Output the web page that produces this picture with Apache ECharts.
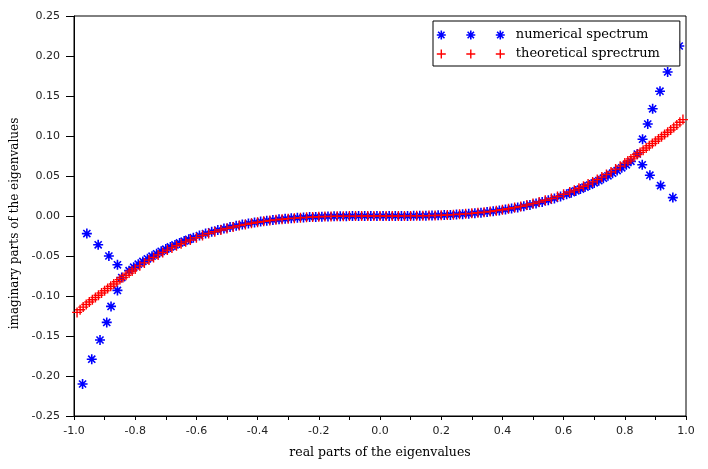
<!DOCTYPE html>
<html>
<head>
<meta charset="utf-8">
<script src="https://cdn.jsdelivr.net/npm/echarts@6.0.0/dist/echarts.min.js"></script>
<style>
  html, body { margin: 0; padding: 0; background: #fff; }
  #chart-container { width: 708px; height: 469px; }
</style>
</head>
<body>
<div id="chart-container"></div>
<script type="text/javascript">
// numerical spectrum (blue stars): left branches, central curve, right branches
var realNum = [
  -0.972, -0.942, -0.915, -0.893, -0.879, -0.858, -0.844, -0.858, -0.886, -0.921, -0.958,
  -0.82, -0.805, -0.79, -0.775, -0.76, -0.745, -0.73, -0.715, -0.70, -0.685, -0.67, -0.655, -0.64, -0.625, -0.61,
  -0.59, -0.57, -0.55, -0.53, -0.51, -0.49, -0.47, -0.45, -0.43, -0.41, -0.39, -0.37, -0.35, -0.33, -0.31,
  -0.29, -0.27, -0.25, -0.23, -0.21, -0.19, -0.17, -0.15, -0.13, -0.11, -0.09, -0.07, -0.05, -0.03, -0.01,
  0.01, 0.03, 0.05, 0.07, 0.09, 0.11, 0.13, 0.15, 0.17, 0.19, 0.21, 0.23, 0.25, 0.27, 0.29,
  0.31, 0.33, 0.35, 0.37, 0.39, 0.41, 0.43, 0.45, 0.47, 0.49, 0.51, 0.53, 0.55, 0.57, 0.59,
  0.61, 0.625, 0.64, 0.655, 0.67, 0.685, 0.70, 0.715, 0.73, 0.745, 0.76, 0.775, 0.79, 0.805, 0.82,
  0.841, 0.858, 0.875, 0.891, 0.915, 0.940, 0.978, 0.857, 0.882, 0.917, 0.957
];
var imagNum = [
  -0.210, -0.179, -0.155, -0.133, -0.113, -0.093, -0.077, -0.061, -0.050, -0.036, -0.022,
  -0.0683, -0.0640, -0.0603, -0.0568, -0.0535, -0.0503, -0.0472, -0.0442, -0.0414, -0.0387, -0.0362, -0.0337, -0.0314, -0.0292, -0.0271,
  -0.0245, -0.0220, -0.0197, -0.0176, -0.0157, -0.0139, -0.0122, -0.0107, -0.0093, -0.0081, -0.0069, -0.0059, -0.0050, -0.0042, -0.0035,
  -0.0028, -0.0023, -0.0018, -0.0014, -0.0011, -0.0008, -0.0006, -0.0004, -0.0003, -0.0002, -0.0001, 0, 0, 0, 0,
  0, 0, 0, 0, 0.0001, 0.0002, 0.0003, 0.0004, 0.0006, 0.0008, 0.0011, 0.0014, 0.0018, 0.0023, 0.0028,
  0.0035, 0.0042, 0.0050, 0.0059, 0.0069, 0.0081, 0.0093, 0.0107, 0.0122, 0.0139, 0.0157, 0.0176, 0.0197, 0.0220, 0.0245,
  0.0271, 0.0292, 0.0314, 0.0337, 0.0362, 0.0387, 0.0414, 0.0442, 0.0472, 0.0503, 0.0535, 0.0568, 0.0603, 0.0640, 0.0683,
  0.0775, 0.096, 0.115, 0.134, 0.156, 0.180, 0.2125, 0.064, 0.051, 0.038, 0.023
];

// theoretical spectrum (red crosses)
var realTheo = [
  -0.99, -0.98, -0.97, -0.96, -0.95, -0.94, -0.93, -0.92, -0.91, -0.90, -0.89, -0.88, -0.87, -0.86, -0.85, -0.84, -0.83, -0.82, -0.81, -0.80,
  -0.785, -0.77, -0.755, -0.74, -0.725, -0.71, -0.695, -0.68, -0.665, -0.65, -0.635, -0.62,
  -0.60, -0.58, -0.56, -0.54, -0.52, -0.50, -0.48, -0.46, -0.44, -0.42, -0.40, -0.38, -0.36, -0.34, -0.32,
  -0.30, -0.28, -0.26, -0.24, -0.22, -0.20, -0.18, -0.16, -0.14, -0.12, -0.10, -0.08, -0.06, -0.04, -0.02,
  0.00,
  0.02, 0.04, 0.06, 0.08, 0.10, 0.12, 0.14, 0.16, 0.18, 0.20, 0.22, 0.24, 0.26, 0.28, 0.30,
  0.32, 0.34, 0.36, 0.38, 0.40, 0.42, 0.44, 0.46, 0.48, 0.50, 0.52, 0.54, 0.56, 0.58, 0.60,
  0.62, 0.635, 0.65, 0.665, 0.68, 0.695, 0.71, 0.725, 0.74, 0.755, 0.77, 0.785,
  0.80, 0.81, 0.82, 0.83, 0.84, 0.85, 0.86, 0.87, 0.88, 0.89, 0.90, 0.91, 0.92, 0.93, 0.94, 0.95, 0.96, 0.97, 0.98, 0.99
];
var imagTheo = [
  -0.1205, -0.1172, -0.1139, -0.1107, -0.1075, -0.1047, -0.1019, -0.0991, -0.0963, -0.0935, -0.0906, -0.0878, -0.0850, -0.0822, -0.0795, -0.0768, -0.0741, -0.0714, -0.0687, -0.0661,
  -0.0623, -0.0586, -0.0551, -0.0518, -0.0486, -0.0456, -0.0426, -0.0399, -0.0372, -0.0347, -0.0323, -0.0300,
  -0.0271, -0.0244, -0.0219, -0.0196, -0.0175, -0.0155, -0.0137, -0.0120, -0.0105, -0.0091, -0.0079, -0.0067, -0.0057, -0.0048, -0.0040,
  -0.0033, -0.0027, -0.0021, -0.0017, -0.0013, -0.0010, -0.0007, -0.0005, -0.0003, -0.0002, -0.0001, -0.0001, 0, 0, 0,
  0,
  0, 0, 0, 0.0001, 0.0001, 0.0002, 0.0003, 0.0005, 0.0007, 0.0010, 0.0013, 0.0017, 0.0021, 0.0027, 0.0033,
  0.0040, 0.0048, 0.0057, 0.0067, 0.0079, 0.0091, 0.0105, 0.0120, 0.0137, 0.0155, 0.0175, 0.0196, 0.0219, 0.0244, 0.0271,
  0.0300, 0.0323, 0.0347, 0.0372, 0.0399, 0.0426, 0.0456, 0.0486, 0.0518, 0.0551, 0.0586, 0.0623,
  0.0661, 0.0687, 0.0714, 0.0741, 0.0768, 0.0795, 0.0822, 0.0850, 0.0878, 0.0906, 0.0935, 0.0963, 0.0991, 0.1019, 0.1047, 0.1075, 0.1107, 0.1139, 0.1172, 0.1205
];

var seriesNames = ['numerical spectrum', 'theoretical sprectrum'];

// marker shapes (stroked paths)
var starPath = 'path://M4.5,0L4.5,9M0,4.5L9,4.5M1.3,1.3L7.7,7.7M1.3,7.7L7.7,1.3';
var plusPath = 'path://M4.5,0L4.5,9M0,4.5L9,4.5';
// legend shows three markers in a row, like the original plot
var starLegend = 'path://M4.5,0L4.5,9M0,4.5L9,4.5M1.3,1.3L7.7,7.7M1.3,7.7L7.7,1.3' +
  'M34,0L34,9M29.5,4.5L38.5,4.5M30.8,1.3L37.2,7.7M30.8,7.7L37.2,1.3' +
  'M63.5,0L63.5,9M59,4.5L68,4.5M60.3,1.3L66.7,7.7M60.3,7.7L66.7,1.3M74,4.5';
var plusLegend = 'path://M4.5,0L4.5,9M0,4.5L9,4.5M34,0L34,9M29.5,4.5L38.5,4.5' +
  'M63.5,0L63.5,9M59,4.5L68,4.5M74,4.5';

function zip(xs, ys) {
  return xs.map(function (x, i) { return [x, ys[i]]; });
}

var dom = document.getElementById('chart-container');
var myChart = echarts.init(dom, null, { renderer: 'canvas' });

var option = {
  animation: false,
  backgroundColor: '#fff',
  grid: {
    left: 74, right: 22, top: 16, bottom: 53,
    show: true, borderColor: '#000', borderWidth: 1
  },
  legend: {
    orient: 'vertical',
    left: 433, top: 21,
    padding: [7, 20, 5, 3],
    itemWidth: 74, itemHeight: 9, itemGap: 5,
    borderColor: '#000', borderWidth: 1,
    backgroundColor: '#fff',
    selectedMode: false,
    textStyle: { fontFamily: 'DejaVu Serif', fontSize: 13, color: '#000', lineHeight: 14 },
    data: [
      { name: seriesNames[0], icon: starLegend,
        itemStyle: { color: 'rgba(0,0,0,0)', borderColor: '#0000ff', borderWidth: 1.6 } },
      { name: seriesNames[1], icon: plusLegend,
        itemStyle: { color: 'rgba(0,0,0,0)', borderColor: '#ff0000', borderWidth: 1.4 } }
    ]
  },
  xAxis: {
    type: 'value',
    min: -1, max: 1, interval: 0.2,
    name: 'real parts of the eigenvalues',
    nameLocation: 'middle', nameGap: 30,
    nameTextStyle: { fontFamily: 'DejaVu Serif', fontSize: 12.5, color: '#000' },
    axisLine: { onZero: false, lineStyle: { color: '#000', width: 1 } },
    axisTick: { length: 4, lineStyle: { color: '#000' } },
    minorTick: { show: true, splitNumber: 2, length: 4, lineStyle: { color: '#000' } },
    axisLabel: {
      fontFamily: 'DejaVu Sans', fontSize: 11, color: '#222', margin: 10,
      formatter: function (v) { return v.toFixed(1); }
    },
    splitLine: { show: false }
  },
  yAxis: {
    type: 'value',
    min: -0.25, max: 0.25, interval: 0.05,
    name: 'imaginary parts of the eigenvalues',
    nameLocation: 'middle', nameGap: 51,
    nameTextStyle: { fontFamily: 'DejaVu Serif', fontSize: 12, color: '#000', padding: [0, 15, 0, 0] },
    axisLine: { onZero: false, lineStyle: { color: '#000', width: 1 } },
    axisTick: { length: 8, lineStyle: { color: '#000' } },
    axisLabel: {
      fontFamily: 'DejaVu Sans', fontSize: 11, color: '#222', margin: 14,
      formatter: function (v) { return v.toFixed(2); }
    },
    splitLine: { show: false }
  },
  series: [
    {
      name: seriesNames[0],
      type: 'scatter',
      symbol: starPath,
      symbolSize: 10,
      itemStyle: { color: 'rgba(0,0,0,0)', borderColor: '#0000ff', borderWidth: 1.6, opacity: 1 },
      emphasis: { disabled: true },
      data: zip(realNum, imagNum)
    },
    {
      name: seriesNames[1],
      type: 'scatter',
      symbol: plusPath,
      symbolSize: 10,
      itemStyle: { color: 'rgba(0,0,0,0)', borderColor: '#ff0000', borderWidth: 1.4, opacity: 1 },
      emphasis: { disabled: true },
      data: zip(realTheo, imagTheo)
    }
  ]
};

myChart.setOption(option);
window.addEventListener('resize', myChart.resize);
</script>
</body>
</html>
